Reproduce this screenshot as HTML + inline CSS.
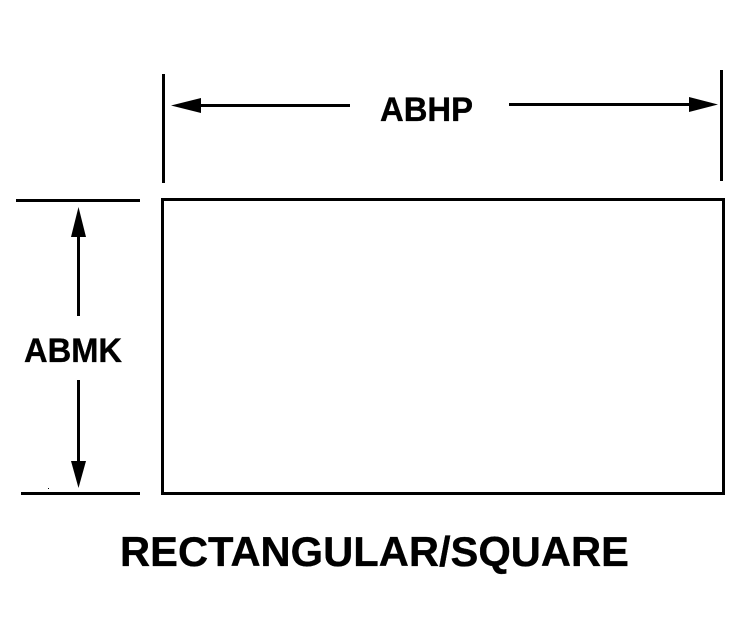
<!DOCTYPE html>
<html><head><meta charset="utf-8"><style>html,body{margin:0;padding:0;background:#fff}svg{display:block}text{font-family:"Liberation Sans",Arial,sans-serif;font-weight:700;fill:#000;stroke:#000;stroke-width:.35px}</style></head>
<body><svg width="738" height="636" viewBox="0 0 738 636" xmlns="http://www.w3.org/2000/svg">
<rect width="738" height="636" fill="#fff"/>
<g fill="#000" shape-rendering="crispEdges">
<rect x="162" y="74" width="3" height="109"/>
<rect x="720" y="70" width="3" height="111"/>
<rect x="201" y="104" width="149" height="3"/>
<rect x="509" y="103" width="180" height="3"/>
<rect x="16" y="199" width="124" height="3"/>
<rect x="21" y="492" width="119" height="3"/>
<rect x="77" y="237" width="3" height="79"/>
<rect x="77" y="380" width="3" height="82"/>
<rect x="48" y="488" width="1" height="1"/>
</g>
<rect x="162.5" y="199.5" width="561" height="294" fill="none" stroke="#000" stroke-width="3" shape-rendering="crispEdges"/>
<g fill="#000">
<polygon points="171,105.5 201,98 201,113"/>
<polygon points="718,104.5 689,97 689,112"/>
<polygon points="78.5,207 71,237 86,237"/>
<polygon points="78.5,488 71,461 86,461"/>
</g>
<text x="380" y="121" font-size="34" textLength="93" lengthAdjust="spacingAndGlyphs">ABHP</text>
<text x="24" y="362" font-size="34" textLength="98" lengthAdjust="spacingAndGlyphs">ABMK</text>
<text x="120" y="566" font-size="42" textLength="509" lengthAdjust="spacingAndGlyphs">RECTANGULAR/SQUARE</text>
</svg></body></html>
